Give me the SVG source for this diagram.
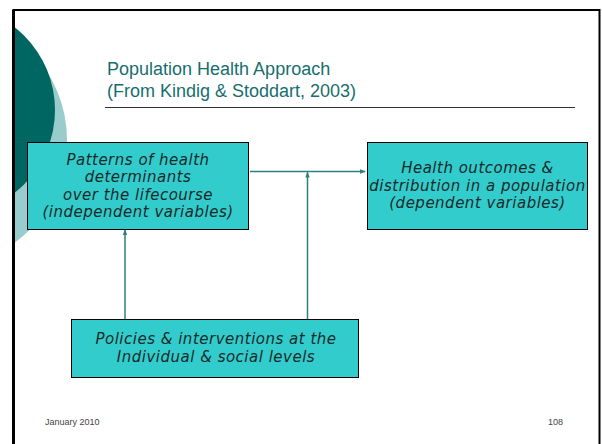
<svg xmlns="http://www.w3.org/2000/svg" width="602" height="444" viewBox="0 0 602 444">
  <style>
    .box { fill: #33cccc; stroke: #000; stroke-width: 1; }
    .lbl { font-family: "DejaVu Sans", Verdana, sans-serif; font-style: italic; font-size: 15px; letter-spacing: 0.5px; fill: #1a2a2a; text-anchor: middle; }
    .title { font-family: "Liberation Sans", Arial, sans-serif; font-size: 18px; fill: #176e6e; }
    .foot { font-family: "Liberation Sans", Arial, sans-serif; font-size: 9px; fill: #444; }
    .conn { stroke: #2f7f7f; stroke-width: 1.5; fill: none; }
  </style>
  <defs>
    <marker id="arrow" markerWidth="6" markerHeight="6" refX="5" refY="3" orient="auto" markerUnits="userSpaceOnUse">
      <path d="M0,0.8 L6,3 L0,5.2 Z" fill="#2f7f7f"/>
    </marker>
    <clipPath id="frameClip">
      <rect x="15" y="11" width="584" height="433"/>
    </clipPath>
  </defs>

  <rect width="602" height="444" fill="#fff"/>

  <!-- decorative circles on the left edge -->
  <g clip-path="url(#frameClip)">
    <circle cx="-60" cy="140" r="127" fill="#99cccc"/>
    <circle cx="-50" cy="110" r="105" fill="#006661"/>
  </g>

  <!-- slide frame -->
  <path d="M13.5,444 V10 H599.5 V444" fill="none" stroke="#000" stroke-width="2"/>
  <line x1="13.5" y1="10" x2="13.5" y2="444" stroke="#000" stroke-width="3"/>

  <!-- title -->
  <g id="title">
    <text class="title" x="107" y="75">Population Health Approach</text>
    <text class="title" x="107" y="97">(From Kindig &amp; Stoddart, 2003)</text>
    <line x1="105" y1="107.5" x2="575" y2="107.5" stroke="#333" stroke-width="1"/>
  </g>

  <!-- connectors -->
  <g id="connectors">
    <line class="conn" x1="250" y1="171.5" x2="365" y2="171.5" marker-end="url(#arrow)"/>
    <line class="conn" x1="307.5" y1="319" x2="307.5" y2="172.5" marker-end="url(#arrow)"/>
    <line class="conn" x1="125" y1="319" x2="125" y2="230" marker-end="url(#arrow)"/>
  </g>

  <g id="determinants">
    <rect class="box" x="27.5" y="142.5" width="221" height="87"/>
    <text class="lbl" x="138" y="165">Patterns of health</text>
    <text class="lbl" x="138" y="182">determinants</text>
    <text class="lbl" x="138" y="199.5">over the lifecourse</text>
    <text class="lbl" x="138" y="217">(independent variables)</text>
  </g>

  <g id="outcomes">
    <rect class="box" x="367.5" y="142.5" width="220" height="87"/>
    <text class="lbl" x="477.5" y="173">Health outcomes &amp;</text>
    <text class="lbl" x="477.5" y="190.5">distribution in a population</text>
    <text class="lbl" x="477.5" y="208">(dependent variables)</text>
  </g>

  <g id="policies">
    <rect class="box" x="71.5" y="319.5" width="287" height="58"/>
    <text class="lbl" x="216" y="344">Policies &amp; interventions at the</text>
    <text class="lbl" x="216" y="362">Individual &amp; social levels</text>
  </g>

  <!-- footer -->
  <text class="foot" x="45" y="425">January 2010</text>
  <text class="foot" x="563" y="425" text-anchor="end">108</text>
</svg>
